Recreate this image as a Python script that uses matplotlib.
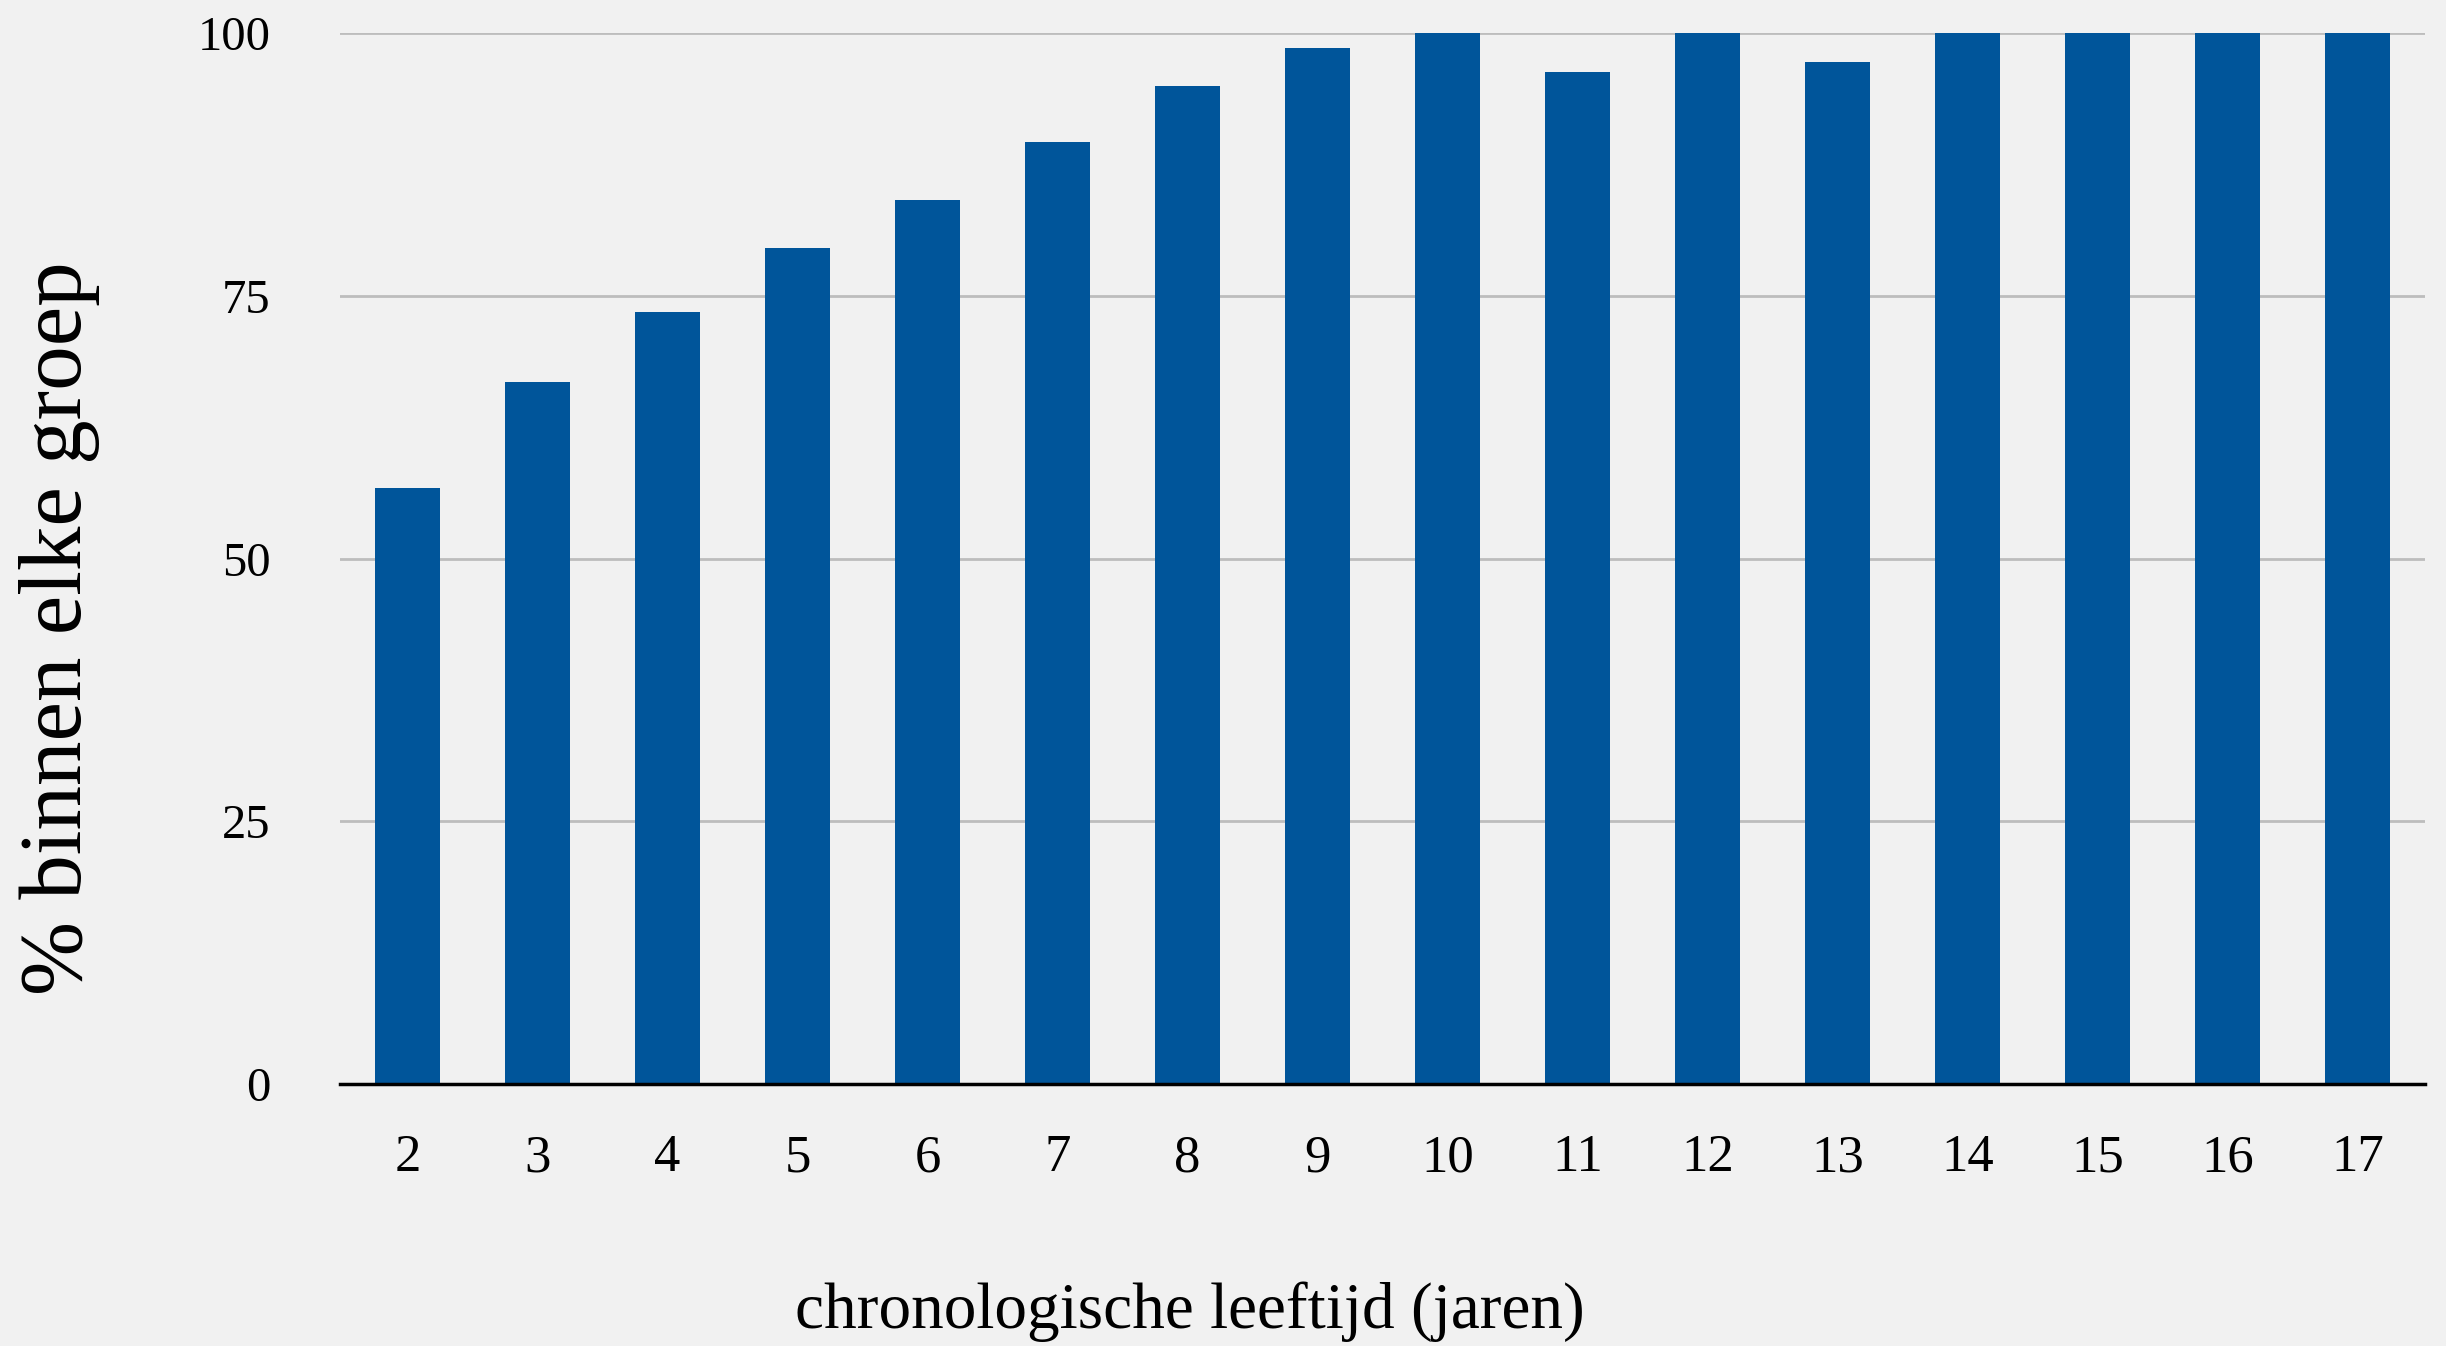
import matplotlib
matplotlib.use("Agg")
import matplotlib.pyplot as plt

# leeftijd (jaren) en percentage binnen elke groep
leeftijden = ["2", "3", "4", "5", "6", "7", "8", "9", "10", "11",
              "12", "13", "14", "15", "16", "17"]
percentages = [56.7, 66.8, 73.5, 79.5, 84.1, 89.6, 95.0, 98.6, 100, 96.3,
               100, 97.2, 100, 100, 100, 100]
y_ticks = [0, 25, 50, 75, 100]

plt.rcParams['font.family'] = ['Liberation Serif', 'DejaVu Serif']

bg = "#f1f1f1"
fig = plt.figure(figsize=(24.46, 13.46), dpi=100, facecolor=bg)
ax = fig.add_axes([340 / 2446, 1 - 1084 / 1346, (2425 - 340) / 2446, (1084 - 33) / 1346])
ax.set_facecolor(bg)

x = range(len(leeftijden))
ax.bar(x, percentages, width=0.5, color="#00559a", zorder=3)

ax.set_xlim(-0.52, len(leeftijden) - 0.48)
ax.set_ylim(0, 100)
ax.set_yticks(y_ticks)
ax.set_xticks(list(x))
ax.set_xticklabels(leeftijden)

ax.yaxis.grid(True, color="#bdbdbd", linewidth=2, zorder=0)
ax.set_axisbelow(True)
for side in ["top", "right", "left"]:
    ax.spines[side].set_visible(False)
ax.spines["bottom"].set_linewidth(2.5)
ax.spines["bottom"].set_color("black")
ax.spines["bottom"].set_zorder(4)

ax.tick_params(axis="y", length=0, labelsize=35, colors="black", pad=50)
ax.tick_params(axis="x", length=0, labelsize=38, colors="black", pad=36)

fig.text(1190 / 2446, 1 - 1312 / 1346, "chronologische leeftijd (jaren)",
         ha="center", va="center", fontsize=47)
fig.text(60 / 2446, 1 - 628 / 1346, "% binnen elke groep", rotation=90,
         ha="center", va="center", fontsize=64)

plt.savefig("out.png", dpi=100, facecolor=bg)
plt.close()
